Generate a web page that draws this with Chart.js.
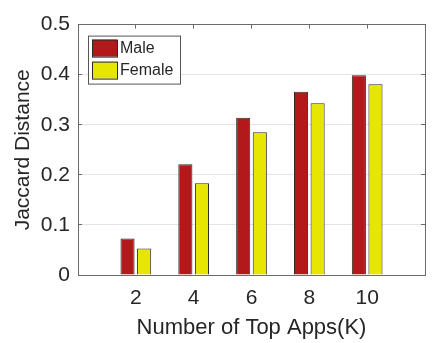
<!DOCTYPE html>
<html>
<head>
<meta charset="utf-8">
<script src="https://cdn.jsdelivr.net/npm/chart.js@4/dist/chart.umd.min.js"></script>
<style>
  body { margin: 0; background: #fff; }
  canvas { display: block; }
</style>
</head>
<body>
<canvas id="topAppsChart" width="436" height="343"></canvas>
<script>
// values
const topK = [2, 4, 6, 8, 10];
const maleDistance = [0.073, 0.221, 0.314, 0.366, 0.399];
const femaleDistance = [0.053, 0.183, 0.285, 0.343, 0.381];
const yTicks = [0, 0.1, 0.2, 0.3, 0.4, 0.5];

const fontFamily = "'Liberation Sans', Arial, Helvetica, sans-serif";
const textColor = '#262626';
const axisColor = '#6b6b6b';
const gridColor = '#e4e4e4';

// MATLAB style boxed legend in the top left corner
const boxLegend = {
    id: 'boxLegend',
    afterDraw(chart) {
        const { ctx, chartArea } = chart;
        const x = chartArea.left + 10;
        const y = chartArea.top + 11;
        ctx.save();
        ctx.fillStyle = '#fff';
        ctx.fillRect(x, y, 92, 48);
        ctx.strokeStyle = '#555';
        ctx.lineWidth = 1;
        ctx.strokeRect(x + 0.5, y + 0.5, 92, 48);
        ctx.font = '16px ' + fontFamily;
        ctx.textBaseline = 'middle';
        chart.data.datasets.forEach((ds, i) => {
            const top = y + 4 + i * 22;
            ctx.fillStyle = ds.backgroundColor;
            ctx.fillRect(x + 4, top, 25, 17);
            ctx.strokeStyle = ds.borderColor;
            ctx.strokeRect(x + 4.5, top + 0.5, 25, 17);
            ctx.fillStyle = textColor;
            ctx.fillText(ds.label, x + 32, top + 9);
        });
        ctx.restore();
    }
};

const ctx = document.getElementById('topAppsChart').getContext('2d');
new Chart(ctx, {
    type: 'bar',
    data: {
        datasets: [{
            label: 'Male',
            data: topK.map((k, i) => ({ x: k, y: maleDistance[i] })),
            backgroundColor: '#b2191b',
            borderColor: '#2b2b2b',
            borderWidth: 1
        }, {
            label: 'Female',
            data: topK.map((k, i) => ({ x: k, y: femaleDistance[i] })),
            backgroundColor: '#e6e600',
            borderColor: '#2b2b2b',
            borderWidth: 1
        }]
    },
    options: {
        responsive: false,
        animation: false,
        categoryPercentage: 0.574,
        barPercentage: 0.85,
        layout: { padding: { top: 12, right: 3, left: 0, bottom: 0 } },
        plugins: {
            legend: { display: false },
            tooltip: { enabled: false }
        },
        scales: {
            x: {
                type: 'linear',
                min: 0,
                max: 12,
                offset: false,
                grid: { display: false, offset: false, drawTicks: false },
                border: { color: axisColor },
                ticks: {
                    stepSize: 2,
                    autoSkip: false,
                    maxRotation: 0,
                    padding: 11,
                    color: textColor,
                    font: { family: fontFamily, size: 21 },
                    callback: v => (topK.includes(v) ? String(v) : '')
                },
                title: {
                    display: true,
                    text: 'Number of Top Apps(K)',
                    color: textColor,
                    font: { family: fontFamily, size: 22 },
                    padding: { top: 0, bottom: 2 }
                },
                afterFit: s => { s.height = 68; }
            },
            x2: {
                type: 'linear',
                position: 'top',
                min: 0,
                max: 12,
                offset: false,
                grid: { drawOnChartArea: false, offset: false, tickLength: -4, tickColor: axisColor },
                border: { color: axisColor },
                ticks: { display: false, stepSize: 2 },
                afterFit: s => { s.height = 0; }
            },
            y: {
                min: 0,
                max: 0.5,
                afterBuildTicks: s => { s.ticks = yTicks.map(v => ({ value: v })); },
                grid: {
                    color: c => (c.tick.value > 0.001 && c.tick.value < 0.499 ? gridColor : 'rgba(0,0,0,0)'),
                    tickLength: -4,
                    tickColor: axisColor
                },
                border: { color: axisColor },
                ticks: {
                    padding: 12,
                    color: textColor,
                    font: { family: fontFamily, size: 21 },
                    callback: v => String(v)
                },
                title: {
                    display: true,
                    text: 'Jaccard Distance',
                    color: textColor,
                    font: { family: fontFamily, size: 21 },
                    padding: { top: 11, bottom: 0 }
                },
                afterFit: s => { s.width = 78; }
            },
            y2: {
                position: 'right',
                min: 0,
                max: 0.5,
                afterBuildTicks: s => { s.ticks = yTicks.map(v => ({ value: v })); },
                grid: { drawOnChartArea: false, tickLength: -4, tickColor: axisColor },
                border: { color: axisColor },
                ticks: { display: false },
                afterFit: s => { s.width = 0; }
            }
        }
    },
    plugins: [boxLegend]
});
</script>
</body>
</html>
